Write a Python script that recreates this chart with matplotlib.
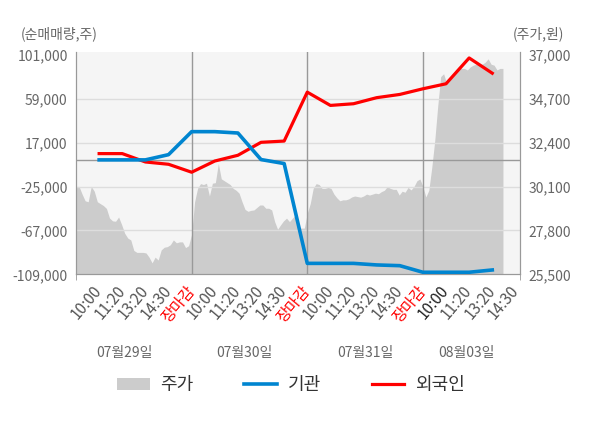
import numpy as np
import matplotlib
matplotlib.use('Agg')
import matplotlib.pyplot as plt
from matplotlib.patches import Patch
from matplotlib.lines import Line2D

plt.rcParams['font.family'] = ['Noto Sans CJK KR', 'DejaVu Sans']

# --- data ---
days = ['07월29일', '07월30일', '07월31일', '08월03일']
times = ['10:00', '11:20', '13:20', '14:30', '장마감']

# stock price (원), sampled evenly through each session
price_d1 = [30100, 30100, 29700, 29350, 29300, 30100, 29850, 29300, 29200, 29100,
            28950, 28450, 28300, 28280, 28500, 28100, 27650, 27400, 27300, 26750,
            26650, 26650, 26650, 26620, 26400, 26100, 26400, 26250, 26780, 26920,
            26950, 27050, 27300, 27150, 27200, 27200, 26900, 27000]
price_d2 = [27600, 29300, 30000, 30250, 30200, 30270, 29600, 30270, 30300, 31300,
            30500, 30400, 30300, 30200, 30000, 29900, 29750, 29300, 28900, 28800,
            28850, 28870, 29000, 29130, 29130, 28960, 28960, 28870, 28260, 27860,
            28090, 28300, 28440, 28260, 28440, 28600, 27920, 27920, 27920]
price_d3 = [28700, 29200, 30000, 30250, 30200, 30000, 30000, 30050, 30000, 29700,
            29500, 29350, 29400, 29400, 29450, 29550, 29600, 29570, 29540, 29600,
            29700, 29650, 29700, 29750, 29720, 29830, 29900, 30090, 30000, 29950,
            29950, 29650, 29850, 29800, 30050, 29920, 30100, 30400, 30490]
price_d4 = [30100, 29550, 29900, 31100, 32500, 34300, 35850, 36000, 35500, 35800,
            35930, 36190, 36360, 36280, 36280, 36200, 36360, 36450, 36500, 36500,
            36500, 36600, 36780, 36500, 36450, 36200, 36280]

# cumulative net buying (주) at each time label
inst = [500, 500, 500, 5500, 27500, 27500, 26200, 800, -3000,
        -98500, -98500, -98500, -100000, -100700, -107000, -107000, -107000, -104800]
foreign = [6500, 6500, -1500, -3700, -11300, -600, 4900, 17300, 18500,
           65300, 52600, 54200, 60000, 63100, 68500, 73300, 98000, 83400]

left_ticks = [101000, 59000, 17000, -25000, -67000, -109000]
right_ticks = [37000, 34700, 32400, 30100, 27800, 25500]

# --- build x positions: 5 slots per day ---
step = 5 / 39
px, py = [], []
for d, seg in enumerate([price_d1, price_d2, price_d3, price_d4]):
    s = 5 / len(seg) if d < 3 else step
    px += list(d * 5 + np.arange(len(seg)) * s)
    py += seg
px.append(px[-1] + step)
py.append(py[-1])

line_x = np.arange(1, len(inst) + 1)

fig = plt.figure(figsize=(6, 4.28), dpi=100)
ax2 = fig.add_axes((0.1267, 0.359, 0.74, 0.52))
ax1 = ax2.twinx()
ax1.set_zorder(ax2.get_zorder() + 1)
ax1.patch.set_visible(False)

# price area on right axis
ax2.set_facecolor('#f5f5f5')
ax2.fill_between(px, py, 25500, color='#cccccc', lw=0)
ax2.set_ylim(25500, 37150)
ax2.set_xlim(0, 19.2)

# left axis is drawn on ax1 but ax2 is the host, so swap sides
ax2.yaxis.tick_right()
ax2.yaxis.set_label_position('right')
ax1.yaxis.tick_left()

ax2.set_yticks(right_ticks)
ax2.set_yticklabels([f'{v:,}' for v in right_ticks])
ax1.set_ylim(-109000, 103900)
ax1.set_yticks(left_ticks)
ax1.set_yticklabels([f'{v:,}' for v in left_ticks])

for v in left_ticks[1:-1]:
    ax2.axhline(25500 + (v + 109000) / (103900 + 109000) * (37150 - 25500),
                color='#dddddd', lw=1, zorder=1)
ax1.axhline(0, color='#999999', lw=1, zorder=1)
for b in (5, 10, 15):
    ax2.axvline(b, color='#999999', lw=1, zorder=1)

ax1.plot(line_x, foreign, color='#ff0000', lw=2.3, zorder=3)
ax1.plot(line_x, inst, color='#0085d0', lw=2.6, zorder=4)

for ax in (ax1, ax2):
    ax.tick_params(axis='y', length=0, labelsize=10, colors='#666666', pad=6)
    ax.spines['top'].set_visible(False)
    for sp in ('left', 'right', 'bottom'):
        ax.spines[sp].set_color('#999999')

# x ticks
tick_pos = list(range(1, 20))
tick_lab = [times[i % 5] for i in range(19)]
ax2.set_xticks(tick_pos)
ax2.set_xticklabels(tick_lab, rotation=50, ha='right', va='center',
                    rotation_mode='anchor', fontsize=11)
ax2.tick_params(axis='x', length=0, pad=10)
for i, t in enumerate(ax2.get_xticklabels()):
    if tick_lab[i] == '장마감':
        t.set_color('#ff0000')
    elif i == 15:
        t.set_color('#222222')
    else:
        t.set_color('#555555')
ax2.set_xticks([0, 5, 10, 15, 19.2], minor=True)
ax2.tick_params(axis='x', which='minor', length=4, color='#999999')
ax1.set_xlim(0, 19.2)

date_x = [2.1, 7.3, 12.5, 16.9]
for x, lab in zip(date_x, days):
    ax2.text(x, -0.355, lab, transform=ax2.get_xaxis_transform(),
             ha='center', va='center', fontsize=10, color='#666666')

fig.text(0.035, 0.922, '(순매매량,주)', fontsize=10, color='#666666', ha='left', va='center')
fig.text(0.94, 0.922, '(주가,원)', fontsize=10, color='#666666', ha='right', va='center')

handles = [Patch(facecolor='#cccccc', edgecolor='none'),
           Line2D([], [], color='#0085d0', lw=2.6),
           Line2D([], [], color='#ff0000', lw=2.3)]
fig.legend(handles, ['주가', '기관', '외국인'], loc='center', bbox_to_anchor=(0.485, 0.1),
           ncol=3, frameon=False, fontsize=13, handlelength=1.8, columnspacing=2.8,
           handletextpad=0.6, labelcolor='#333333')

fig.savefig('out.png', dpi=100)
